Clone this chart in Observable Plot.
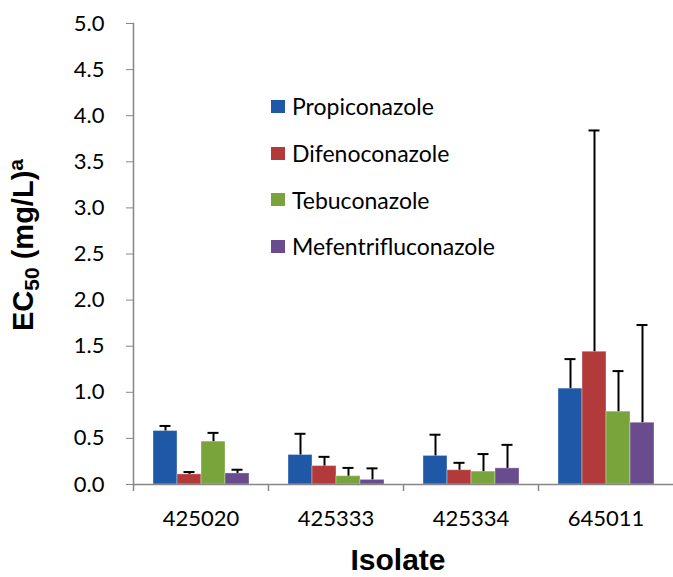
<!DOCTYPE html>
<html>
<head>
<meta charset="utf-8">
<script src="https://cdn.jsdelivr.net/npm/d3@7"></script>
<script src="https://cdn.jsdelivr.net/npm/@observablehq/plot@0.6"></script>
<style>
  body { margin: 0; background: #fff; }
  #chart { position: relative; width: 673px; height: 577px; font-family: Lato, sans-serif; }
  #legend { position: absolute; left: 271px; top: 83px; }
  #legend .row { height: 46.7px; display: flex; align-items: center; font-size: 23px; color: #000; }
  #legend .sw { width: 14px; height: 13px; margin-right: 7px; }
</style>
</head>
<body>
<div id="chart"></div>
<script>
const isolates = ["425020", "425333", "425334", "645011"];
const fungicides = ["Propiconazole", "Difenoconazole", "Tebuconazole", "Mefentrifluconazole"];
const colors = ["#2058a8", "#b23a3a", "#79a33b", "#684c8e"];

// EC50 means (mg/L) per isolate
const propiconazole = [0.58, 0.32, 0.31, 1.04];
const difenoconazole = [0.11, 0.20, 0.155, 1.44];
const tebuconazole = [0.465, 0.09, 0.14, 0.79];
const mefentrifluconazole = [0.12, 0.05, 0.175, 0.67];

// standard deviations (upper error bars)
const propiconazoleSD = [0.055, 0.23, 0.23, 0.32];
const difenoconazoleSD = [0.025, 0.10, 0.08, 2.40];
const tebuconazoleSD = [0.095, 0.09, 0.19, 0.44];
const mefentrifluconazoleSD = [0.04, 0.125, 0.255, 1.06];

const yTicks = [0, 0.5, 1, 1.5, 2, 2.5, 3, 3.5, 4, 4.5, 5];

const meanSeries = [propiconazole, difenoconazole, tebuconazole, mefentrifluconazole];
const sdSeries = [propiconazoleSD, difenoconazoleSD, tebuconazoleSD, mefentrifluconazoleSD];

const rows = [];
fungicides.forEach((f, si) => {
  isolates.forEach((iso, ii) => {
    rows.push({fungicide: f, isolate: iso, mean: meanSeries[si][ii], upper: meanSeries[si][ii] + sdSeries[si][ii]});
  });
});

const axisColor = "#868686";

const plot = Plot.plot({
  width: 673,
  height: 577,
  marginLeft: 133,
  marginRight: 0,
  marginTop: 23,
  marginBottom: 93,
  style: {fontFamily: "Lato, sans-serif", background: "#fff", color: "#000"},
  fx: {domain: isolates, padding: 0, axis: null, label: null},
  x: {domain: fungicides, paddingInner: 0, paddingOuter: 0.755, axis: null},
  y: {domain: [0, 5], axis: null},
  color: {domain: fungicides, range: colors},
  marks: [
    Plot.barY(rows, {fx: "isolate", x: "fungicide", y: "mean", fill: "fungicide", stroke: "#ffffff", strokeOpacity: 0.35, strokeWidth: 1}),
    Plot.ruleX(rows, {fx: "isolate", x: "fungicide", y1: "mean", y2: "upper", stroke: "#000", strokeWidth: 2}),
    Plot.tickY(rows, {fx: "isolate", x: "fungicide", y: "upper", stroke: "#000", strokeWidth: 2, insetLeft: 6.5, insetRight: 6.5}),
    Plot.ruleY([0], {stroke: axisColor, strokeWidth: 1.5}),
    Plot.frame({anchor: "left", facetAnchor: "left", stroke: axisColor, strokeWidth: 1.5}),
    Plot.axisY({ticks: yTicks, tickFormat: d3.format(".1f"), tickSize: 7, tickPadding: 22, stroke: axisColor, fill: "#000", fontSize: 22, label: null}),
    Plot.axisFx({anchor: "bottom", tickSize: 0, tickPadding: 26, fontSize: 22, fill: "#000", label: null}),
    Plot.axisFx({anchor: "bottom", tickSize: 7, tickFormat: () => "", dx: -67.5, stroke: axisColor, strokeWidth: 1.5, label: null})
  ]
});

const svg = d3.select(plot);
// y-axis title with subscript/superscript
const yt = svg.append("text")
  .attr("transform", "translate(33,245) rotate(-90)")
  .attr("text-anchor", "middle")
  .attr("font-family", "'Liberation Sans', Arial, sans-serif")
  .attr("font-weight", "bold")
  .attr("font-size", 29)
  .attr("fill", "#000");
yt.append("tspan").text("EC");
yt.append("tspan").attr("font-size", 21).attr("dy", 6).text("50");
yt.append("tspan").attr("dy", -6).text(" (mg/L)");
yt.append("tspan").attr("font-size", 21).attr("dy", -10).text("a");

// x-axis title
svg.append("text")
  .attr("x", 398)
  .attr("y", 570)
  .attr("text-anchor", "middle")
  .attr("font-family", "'Liberation Sans', Arial, sans-serif")
  .attr("font-weight", "bold")
  .attr("font-size", 30)
  .attr("fill", "#000")
  .text("Isolate");

const chart = document.getElementById("chart");
chart.appendChild(plot);

// legend
const legend = document.createElement("div");
legend.id = "legend";
fungicides.forEach((f, i) => {
  const row = document.createElement("div");
  row.className = "row";
  const sw = document.createElement("span");
  sw.className = "sw";
  sw.style.background = colors[i];
  const label = document.createElement("span");
  label.textContent = f;
  row.appendChild(sw);
  row.appendChild(label);
  legend.appendChild(row);
});
chart.appendChild(legend);
</script>
</body>
</html>
